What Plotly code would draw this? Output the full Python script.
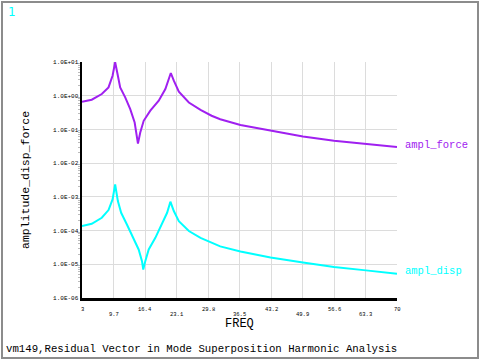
import math
import plotly.graph_objects as go

# ---- data ----
freq_force = [3.0, 5.07, 7.21, 8.64, 9.50, 10.05, 10.63, 11.12, 12.19, 13.26, 14.2, 14.69, 14.9,
              15.39, 16.12, 17.53, 19.32, 20.73, 21.46, 21.89, 22.53, 23.6, 25.73, 28.21, 30.56,
              32.4, 36.7, 43.1, 50.0, 56.6, 63.4, 70.0]
ampl_force = [0.66, 0.76, 1.12, 1.76, 3.92, 9.8, 3.92, 1.76, 0.89, 0.40, 0.16, 0.065, 0.038,
              0.081, 0.18, 0.36, 0.71, 1.58, 3.13, 4.72, 2.79, 1.31, 0.63, 0.38, 0.255,
              0.20, 0.135, 0.091, 0.062, 0.046, 0.037, 0.030]

freq_disp = [3.0, 5.07, 7.21, 8.64, 9.50, 10.05, 10.63, 11.33, 12.55, 13.98, 15.05, 15.76, 16.03,
             16.46, 17.19, 18.6, 20.03, 21.1, 21.8, 22.53, 23.6, 25.73, 28.21, 30.56,
             32.4, 36.7, 43.1, 50.0, 56.6, 63.4, 70.0]
ampl_disp = [1.36e-4, 1.59e-4, 2.40e-4, 4.06e-4, 8.4e-4, 2.33e-3, 7.5e-4, 3.37e-4, 1.52e-4, 6.1e-5,
             2.75e-5, 1.24e-5, 7.0e-6, 1.24e-5, 2.75e-5, 6.1e-5, 1.52e-4, 3.37e-4, 7.2e-4, 3.8e-4,
             1.9e-4, 9.7e-5, 6.1e-5, 4.3e-5, 3.4e-5, 2.4e-5, 1.6e-5, 1.13e-5, 8.3e-6, 6.6e-6, 5.2e-6]

x_ticks = [3, 9.7, 16.4, 23.1, 29.8, 36.5, 43.2, 49.9, 56.6, 63.3, 70]
x_tick_labels = ["3", "9.7", "16.4", "23.1", "29.8", "36.5", "43.2", "49.9", "56.6", "63.3", "70"]
y_ticks = [1e-6, 1e-5, 1e-4, 1e-3, 1e-2, 1e-1, 1e0, 1e1]
y_tick_labels = ["1.0E-06", "1.0E-05", "1.0E-04", "1.0E-03", "1.0E-02", "1.0E-01", "1.0E+00", "1.0E+01"]

series_names = ["ampl_force", "ampl_disp"]
title_text = "vm149,Residual Vector in Mode Superposition Harmonic Analysis"

FORCE_COLOR = "#a020f0"
DISP_COLOR = "#00ffff"
MONO = "Liberation Mono"

fig = go.Figure()
fig.add_trace(go.Scatter(x=freq_force, y=ampl_force, mode="lines", name=series_names[0],
                         line=dict(color=FORCE_COLOR, width=2), hoverinfo="skip"))
fig.add_trace(go.Scatter(x=freq_disp, y=ampl_disp, mode="lines", name=series_names[1],
                         line=dict(color=DISP_COLOR, width=2), hoverinfo="skip"))

minor_vals = [k * 10.0 ** e for e in range(-6, 1) for k in range(2, 10)]

fig.update_layout(
    width=481, height=361,
    margin=dict(l=82, r=84, t=62, b=63, pad=0),
    paper_bgcolor="white", plot_bgcolor="white",
    showlegend=False,
    xaxis=dict(range=[3, 70], tickmode="array", tickvals=x_ticks, showticklabels=False,
               showgrid=True, gridcolor="#dcdcdc", gridwidth=1, zeroline=False,
               showline=True, linecolor="black", linewidth=2.5, ticks=""),
    yaxis=dict(type="log", range=[-6, 1], tickmode="array", tickvals=y_ticks,
               ticktext=y_tick_labels, tickfont=dict(family=MONO, size=6, color="black"),
               showgrid=True, gridcolor="#dcdcdc", gridwidth=1, zeroline=False,
               showline=True, linecolor="black", linewidth=2.5, ticks="",
               minor=dict(tickmode="array", tickvals=minor_vals, ticks="outside",
                          ticklen=2, tickcolor="#bbbbbb", showgrid=False)),
)

anns = []
for i, (v, t) in enumerate(zip(x_ticks, x_tick_labels)):
    anns.append(dict(x=v, xref="x", y=-0.047 if i % 2 == 0 else -0.072, yref="paper",
                     text=t, showarrow=False, xanchor="center", yanchor="middle",
                     font=dict(family=MONO, size=5.5, color="black")))
anns.append(dict(x=0.5, xref="paper", y=-0.11, yref="paper", text="FREQ", showarrow=False,
                 xanchor="center", yanchor="middle",
                 font=dict(family=MONO, size=12, color="black")))
anns.append(dict(x=-0.181, xref="paper", y=0.5, yref="paper", text="amplitude_disp_force",
                 showarrow=False, textangle=-90, xanchor="center", yanchor="middle",
                 font=dict(family=MONO, size=11.5, color="black")))
anns.append(dict(x=1, xref="paper", xshift=6, y=math.log10(ampl_force[-1]), yref="y", yshift=2,
                 text=series_names[0], showarrow=False, xanchor="left", yanchor="middle",
                 font=dict(family=MONO, size=10.5, color=FORCE_COLOR)))
anns.append(dict(x=1, xref="paper", xshift=6, y=math.log10(ampl_disp[-1]), yshift=3, yref="y",
                 text=series_names[1], showarrow=False, xanchor="left", yanchor="middle",
                 font=dict(family=MONO, size=10.5, color=DISP_COLOR)))
anns.append(dict(x=(4 - 82) / 315, xref="paper", y=(298 - 349) / 236, yref="paper",
                 text=title_text, showarrow=False, xanchor="left", yanchor="middle",
                 font=dict(family=MONO, size=10.7, color="black")))
anns.append(dict(x=(6 - 82) / 315, xref="paper", y=(298 - 12) / 236, yref="paper",
                 text="1", showarrow=False, xanchor="left", yanchor="middle",
                 font=dict(family="DejaVu Sans", size=12, color=DISP_COLOR)))
fig.update_layout(annotations=anns)

fig.add_shape(type="rect", xref="paper", yref="paper",
              x0=(2 - 82) / 315, x1=(478 - 82) / 315, y0=(298 - 358) / 236, y1=(298 - 2) / 236,
              line=dict(color="#8c8c8c", width=2), fillcolor="rgba(0,0,0,0)", layer="above")

fig.write_html("out.html", config={"displayModeBar": False, "staticPlot": True},
               post_script="document.body.style.margin='0';document.body.style.overflow='hidden';")
